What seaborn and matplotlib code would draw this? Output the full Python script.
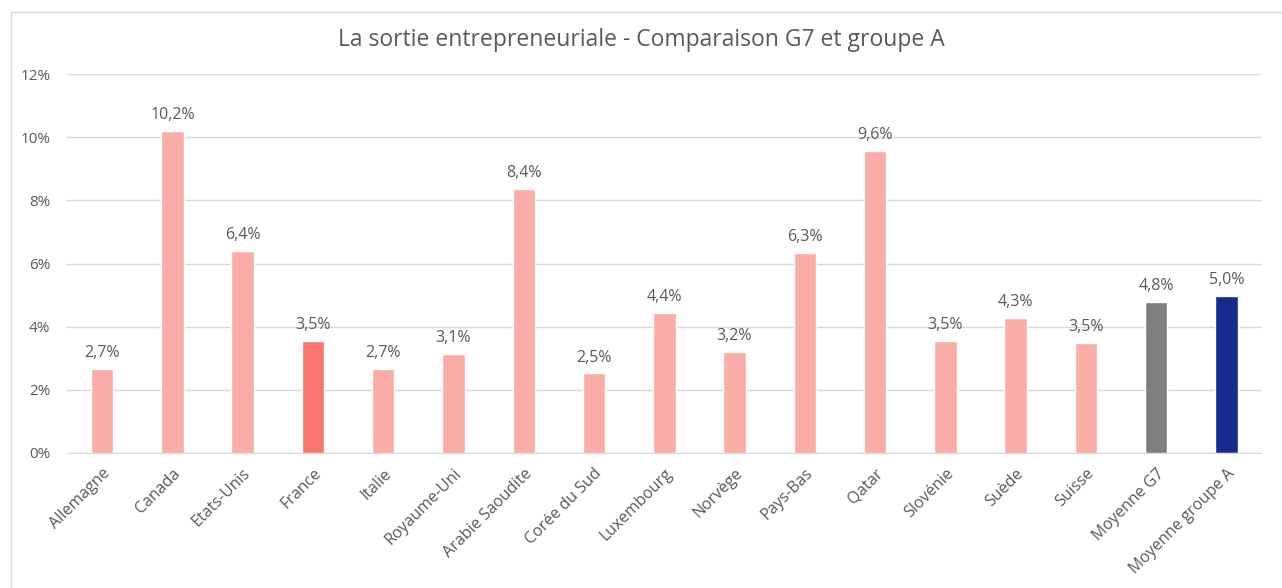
import pandas as pd
import matplotlib.pyplot as plt
import matplotlib.patches as mpatches
import seaborn as sns

# Data
countries = ["Allemagne", "Canada", "Etats-Unis", "France", "Italie", "Royaume-Uni",
             "Arabie Saoudite", "Corée du Sud", "Luxembourg", "Norvège", "Pays-Bas",
             "Qatar", "Slovénie", "Suède", "Suisse", "Moyenne G7", "Moyenne groupe A"]
values = [2.66, 10.2, 6.4, 3.54, 2.66, 3.14, 8.37, 2.52, 4.43, 3.2, 6.33,
          9.57, 3.54, 4.27, 3.48, 4.78, 4.96]

pink = "#F9ADA6"
colors = [pink] * len(countries)
colors[countries.index("France")] = "#F8766B"
colors[countries.index("Moyenne G7")] = "#7F7F7F"
colors[countries.index("Moyenne groupe A")] = "#172B8F"

df = pd.DataFrame({"Pays": countries, "Valeur": values})

sns.set_style("white")
plt.rcParams["font.family"] = ["Open Sans", "DejaVu Sans"]
text_col = "#595959"

fig = plt.figure(figsize=(12.82, 5.88), dpi=100)
ax = fig.add_axes([0.0523, 0.2296, 0.9317, 0.6445])

sns.barplot(data=df, x="Pays", y="Valeur", hue="Pays", palette=colors,
            legend=False, width=0.32, saturation=1, ax=ax)

ax.set_ylim(0, 12)
ax.set_xlim(-0.5, len(countries) - 0.5)
ax.set_yticks(range(0, 13, 2))
ax.set_yticklabels([f"{t}%" for t in range(0, 13, 2)], color=text_col, fontsize=11)
ax.yaxis.grid(True, color="#D9D9D9", linewidth=1)
ax.set_axisbelow(True)
for s in ["top", "right", "left"]:
    ax.spines[s].set_visible(False)
ax.spines["bottom"].set_color("#D9D9D9")
ax.tick_params(axis="both", length=0)
ax.tick_params(axis="y", pad=12)
ax.set_xlabel("")
ax.set_ylabel("")
ax.set_xticks(range(len(countries)))
ax.set_xticklabels(countries, rotation=45, ha="right", rotation_mode="anchor",
                   color=text_col, fontsize=11.5)
ax.tick_params(axis="x", pad=9)

for i, v in enumerate(values):
    ax.text(i, v + 0.25, f"{v:.1f}%".replace(".", ","), ha="center", va="bottom",
            color=text_col, fontsize=11.5)

fig.text(0.5, 0.932, "La sortie entrepreneuriale - Comparaison G7 et groupe A",
         ha="center", va="center", color=text_col, fontsize=16.5)

# outer chart frame
frame = mpatches.Rectangle((11 / 1282, -0.02), 1.1, 1 - 12 / 588 + 0.02,
                           transform=fig.transFigure, fill=False,
                           edgecolor="#D9D9D9", linewidth=1)
fig.patches.append(frame)

fig.savefig("out.png", dpi=100)
